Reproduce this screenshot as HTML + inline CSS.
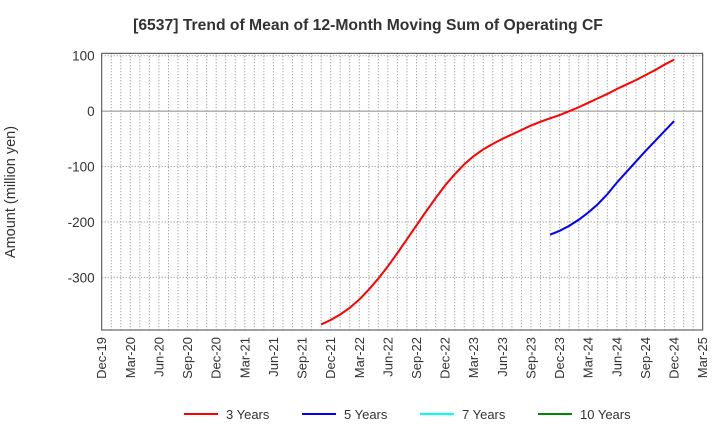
<!DOCTYPE html>
<html><head><meta charset="utf-8"><style>
body{margin:0;background:#fff;}
svg{display:block;font-family:"Liberation Sans",Arial,sans-serif;}
</style></head><body>
<svg id="chart" width="720" height="440">
<text x="368" y="30" text-anchor="middle" font-size="15.7" font-weight="bold" fill="#333">[6537]  Trend of Mean of 12-Month Moving Sum of Operating CF</text>
<text transform="translate(15,192) rotate(-90)" text-anchor="middle" font-size="14.5" fill="#333">Amount (million yen)</text>
<g id="grid"></g><g id="axes"></g><g id="series"></g>
<g id="legend"></g>
</svg>
<script>
const xLabels=["Dec-19","Mar-20","Jun-20","Sep-20","Dec-20","Mar-21","Jun-21","Sep-21","Dec-21","Mar-22","Jun-22","Sep-22","Dec-22","Mar-23","Jun-23","Sep-23","Dec-23","Mar-24","Jun-24","Sep-24","Dec-24","Mar-25"];
const yTicks=[100,0,-100,-200,-300];
const red3Start=23; // months after Dec-19 (Nov-21)
const red3=[-385,-377,-367,-355,-340,-322,-302,-280,-256,-231,-206,-181,-157,-134,-114,-96,-81,-69,-59,-50,-42,-34,-26,-19,-13,-7,0,7,15,23,31,40,48,56,65,74,84,93];
const blue5Start=47; // Nov-23
const blue5=[-223,-216,-207,-196,-183,-168,-150,-129,-110,-91,-72,-54,-36,-18];
const L=101.7,R=702.7,T=53.3,B=330;
const yMax=104.4,yMin=-395;
const ns="http://www.w3.org/2000/svg";
function X(m){return L+(R-L)*m/63;}
function Y(v){return T+(B-T)*(yMax-v)/(yMax-yMin);}
function el(t,a,p){const e=document.createElementNS(ns,t);for(const k in a)e.setAttribute(k,a[k]);p.appendChild(e);return e;}
const grid=document.getElementById('grid'),axes=document.getElementById('axes'),ser=document.getElementById('series'),leg=document.getElementById('legend');
for(let m=1;m<63;m++){const l=el('line',{x1:X(m),x2:X(m),y1:T,y2:B,stroke:'#888','stroke-dasharray':'1,2','stroke-width':1},grid);

}
yTicks.forEach(v=>{const l=el('line',{x1:L,x2:R,y1:Y(v),y2:Y(v),stroke:'#888','stroke-dasharray':v===0?'':'1,2','stroke-width':1},grid);


const t=el('text',{x:L-7,y:Y(v)+5,'text-anchor':'end','font-size':13.5,fill:'#333'},axes);t.textContent=v;

});
const fr=el('rect',{x:L,y:T,width:R-L,height:B-T,fill:'none',stroke:'#444','stroke-width':1},axes);


xLabels.forEach((s,i)=>{const x=X(i*3);const t=el('text',{transform:`translate(${x+4.5},${B+7}) rotate(-90)`,'text-anchor':'end','font-size':13,fill:'#333'},axes);t.textContent=s;

});
function line(arr,start,col,name){const p=el('polyline',{points:arr.map((v,i)=>X(start+i)+','+Y(v)).join(' '),fill:'none',stroke:col,'stroke-width':2},ser);

}
line(red3,red3Start,'#f00','series-3-years');
line(blue5,blue5Start,'#00f','series-5-years');
const items=[["3 Years","#f00",184],["5 Years","#00f",302],["7 Years","#0ff",420],["10 Years","#080",538]];
items.forEach(([n,c,x])=>{const g=el('g',{},leg);


el('line',{x1:x,x2:x+34,y1:414,y2:414,stroke:c,'stroke-width':2},g);
const t=el('text',{x:x+42,y:419,'font-size':13,fill:'#333'},g);t.textContent=n;});
</script>
</body></html>
